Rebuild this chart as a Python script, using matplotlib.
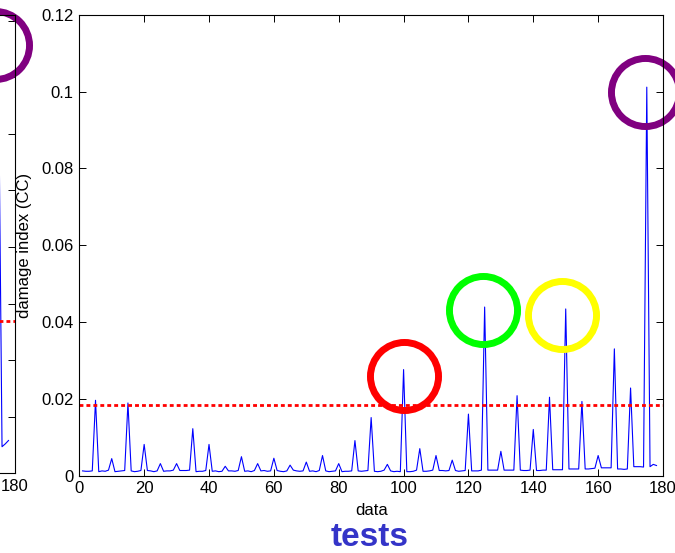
import matplotlib
matplotlib.use('Agg')
import matplotlib.pyplot as plt

plt.rcParams['font.family'] = ['Liberation Sans', 'DejaVu Sans']

# Damage index (CC) for each test
tests = list(range(1, 179))
damage = [
    0.0012, 0.0011, 0.0011, 0.0012, 0.0196, 0.0010, 0.0012, 0.0011, 0.0014, 0.0044,
    0.0010, 0.0011, 0.0012, 0.0013, 0.0189, 0.0012, 0.0010, 0.0011, 0.0013, 0.0081,
    0.0013, 0.0012, 0.0010, 0.0012, 0.0031, 0.0011, 0.0012, 0.0012, 0.0014, 0.0031,
    0.0013, 0.0013, 0.0013, 0.0014, 0.0122, 0.0010, 0.0011, 0.0011, 0.0013, 0.0081,
    0.0011, 0.0012, 0.0010, 0.0011, 0.0024, 0.0012, 0.0012, 0.0011, 0.0013, 0.0049,
    0.0011, 0.0012, 0.0010, 0.0013, 0.0031, 0.0012, 0.0013, 0.0011, 0.0012, 0.0045,
    0.0013, 0.0011, 0.0010, 0.0012, 0.0027, 0.0014, 0.0012, 0.0011, 0.0012, 0.0035,
    0.0011, 0.0012, 0.0010, 0.0013, 0.0052, 0.0012, 0.0010, 0.0011, 0.0012, 0.0031,
    0.0010, 0.0011, 0.0011, 0.0012, 0.0091, 0.0012, 0.0011, 0.0012, 0.0013, 0.0151,
    0.0011, 0.0010, 0.0011, 0.0014, 0.0029, 0.0012, 0.0010, 0.0011, 0.0010, 0.0276,
    0.0010, 0.0010, 0.0011, 0.0014, 0.0070, 0.0011, 0.0011, 0.0012, 0.0014, 0.0052,
    0.0013, 0.0013, 0.0012, 0.0013, 0.0040, 0.0013, 0.0011, 0.0012, 0.0013, 0.0160,
    0.0012, 0.0012, 0.0012, 0.0014, 0.0439, 0.0014, 0.0014, 0.0014, 0.0014, 0.0063,
    0.0014, 0.0014, 0.0014, 0.0014, 0.0208, 0.0014, 0.0013, 0.0013, 0.0014, 0.0120,
    0.0013, 0.0013, 0.0014, 0.0014, 0.0204, 0.0015, 0.0015, 0.0015, 0.0015, 0.0434,
    0.0017, 0.0017, 0.0017, 0.0017, 0.0193, 0.0017, 0.0017, 0.0018, 0.0019, 0.0052,
    0.0020, 0.0020, 0.0020, 0.0020, 0.0330, 0.0017, 0.0017, 0.0016, 0.0017, 0.0228,
    0.0023, 0.0023, 0.0023, 0.0022, 0.1012, 0.0023, 0.0029, 0.0026,
]
threshold = 0.0183

# highlighted peaks
circle_x = [100, 124.5, 148.9, 174.3]
circle_y = [0.0258, 0.0432, 0.0417, 0.0999]
circle_colors = ['#ff0000', '#00ff00', '#ffff00', '#800080']

xticks = [0, 20, 40, 60, 80, 100, 120, 140, 160, 180]
yticks = [0, 0.02, 0.04, 0.06, 0.08, 0.1, 0.12]
ytick_labels = ['0', '0.02', '0.04', '0.06', '0.08', '0.1', '0.12']

# neighbouring panel on the left (mostly cut off)
prev_x = [174, 175, 176, 177, 178]
prev_y = [0.0050, 0.0650, 0.0047, 0.0052, 0.0058]
prev_threshold = 0.0269
prev_circle_x = [173.8]
prev_circle_y = [0.0757]
prev_yticks = [0.01, 0.02, 0.03, 0.04, 0.05, 0.06, 0.07, 0.08]

W, H = 675, 553
fig = plt.figure(figsize=(W / 100, H / 100), dpi=100)
left, right, top, bottom = 79.3, 663.0, 15.0, 475.5
pos_main = [left / W, 1 - bottom / H, (right - left) / W, (bottom - top) / H]
pos_prev = [(15 - (right - left)) / W, 1 - 473.3 / H, (right - left) / W, (473.3 - top) / H]


def style_axes(a):
    a.tick_params(direction='in', top=True, right=True, length=5, width=0.7,
                  labelsize=12, pad=4)
    for s in a.spines.values():
        s.set_linewidth(0.8)


# left (cut-off) panel
ax0 = fig.add_axes(pos_prev)
ax0.plot(prev_x, prev_y, color='#0000ff', lw=0.8)
ax0.plot([0, 180], [prev_threshold, prev_threshold], color='#ff0000', lw=2,
         dashes=(1.4, 1.1))
ax0.plot(prev_circle_x, prev_circle_y, 'o', ms=49, mfc='none', mec='#800080',
         mew=5, clip_on=False)
ax0.set_xlim(0, 180)
ax0.set_ylim(0, 0.081)
ax0.set_xticks(xticks)
ax0.set_yticks(prev_yticks)
style_axes(ax0)

# main panel
ax = fig.add_axes(pos_main)
ax.plot(tests, damage, color='#0000ff', lw=0.8)
ax.plot([0, 180], [threshold, threshold], color='#ff0000', lw=2, dashes=(1.4, 1.1))
for cx, cy, cc in zip(circle_x, circle_y, circle_colors):
    ax.plot([cx], [cy], 'o', ms=49, mfc='none', mec=cc, mew=5, clip_on=False)
ax.set_xlim(0, 180)
ax.set_ylim(0, 0.12)
ax.set_xticks(xticks)
ax.set_yticks(yticks)
ax.set_yticklabels(ytick_labels)
style_axes(ax)
ax.set_xlabel('data', fontsize=12, labelpad=5)
ax.set_ylabel('damage index (CC)', fontsize=12, labelpad=7)

fig.text(370 / W, 1 - 538 / H, 'tests', fontsize=24, fontweight='bold',
         color='#3434c8', ha='center', va='center')

fig.savefig('out.png', dpi=100, facecolor='white')
